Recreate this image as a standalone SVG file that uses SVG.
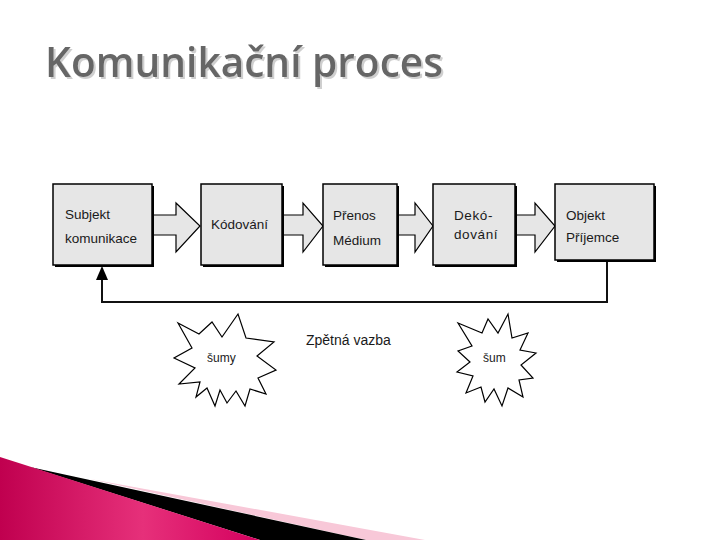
<svg xmlns="http://www.w3.org/2000/svg" width="720" height="540" viewBox="0 0 720 540">
  <defs>
    <style>
      .box { fill: #e6e6e6; stroke: #000; stroke-width: 1.5; }
      .shadow { fill: #000; }
      .barrow { fill: #e6e6e6; stroke: #000; stroke-width: 1.2; stroke-linejoin: miter; }
      .lbl { font-family: "Liberation Sans", Arial, sans-serif; font-size: 13.5px; fill: #1a1a1a; }
      .small { font-family: "Liberation Sans", Arial, sans-serif; font-size: 12px; fill: #1a1a1a; }
      .star { fill: #fff; stroke: #000; stroke-width: 1.2; stroke-linejoin: miter; }
      .fb { fill: none; stroke: #111; stroke-width: 2; }
      .title { font-family: "Open Sans", "DejaVu Sans", sans-serif; font-size: 42px; font-weight: 600; fill: #666; }
    </style>
    <filter id="tshadow" x="-5%" y="-20%" width="110%" height="150%">
      <feDropShadow dx="2" dy="2" stdDeviation="0.6" flood-color="#cfcfcf" flood-opacity="1"/>
    </filter>
    <linearGradient id="mag" x1="0" y1="0" x2="1" y2="0">
      <stop offset="0" stop-color="#c0004f"/>
      <stop offset="0.55" stop-color="#e6307a"/>
      <stop offset="1" stop-color="#d4005e"/>
    </linearGradient>
  </defs>
  <rect width="720" height="540" fill="#fff"/>

  <!-- Title -->
  <g id="title">
    <text class="title" x="45" y="77" textLength="398" lengthAdjust="spacingAndGlyphs" filter="url(#tshadow)">Komunikační proces</text>
  </g>

  <!-- Connectors -->
  <g id="connectors">
    <path class="barrow" d="M152,215 H176 V203 L200,226 L176,252 V235 H152"/>
    <path class="barrow" d="M282,215 H303 V203 L323,226 L303,252 V235 H282"/>
    <path class="barrow" d="M397,215 H415 V203 L433,226 L415,252 V235 H397"/>
    <path class="barrow" d="M515,215 H535 V203 L555,226 L535,252 V235 H515"/>
    <path class="fb" d="M607,261 V302 H102 V278"/>
    <polygon points="102,266 96,280 108,280" fill="#000"/>
  </g>

  <!-- Nodes -->
  <g id="n1">
    <rect class="shadow" x="55" y="186" width="99" height="81"/>
    <rect class="box" x="53" y="184" width="99" height="81"/>
    <text class="lbl" x="65" y="219">Subjekt</text>
    <text class="lbl" x="65" y="243">komunikace</text>
  </g>
  <g id="n2">
    <rect class="shadow" x="203" y="186" width="81" height="81"/>
    <rect class="box" x="201" y="184" width="81" height="81"/>
    <text class="lbl" x="211" y="229">Kódování</text>
  </g>
  <g id="n3">
    <rect class="shadow" x="325" y="186" width="74" height="81"/>
    <rect class="box" x="323" y="184" width="74" height="81"/>
    <text class="lbl" x="333" y="220">Přenos</text>
    <text class="lbl" x="333" y="245">Médium</text>
  </g>
  <g id="n4">
    <rect class="shadow" x="435" y="186" width="82" height="81"/>
    <rect class="box" x="433" y="184" width="82" height="81"/>
    <text class="lbl" x="454" y="220" style="letter-spacing:0.6px">Dekó-</text>
    <text class="lbl" x="454" y="239" style="letter-spacing:0.6px">dování</text>
  </g>
  <g id="n5">
    <rect class="shadow" x="557" y="186" width="99" height="76"/>
    <rect class="box" x="555" y="184" width="99" height="76"/>
    <text class="lbl" x="566" y="220">Objekt</text>
    <text class="lbl" x="566" y="242">Příjemce</text>
  </g>

  <g id="feedback-label">
    <text class="lbl" x="306" y="345" style="font-size:14px">Zpětná vazba</text>
  </g>

  <g id="noise1">
    <polygon class="star" points="178,323 199,334 212,322 222,337 238,314 246,338 274,342 257,356 276,370 258,378 266,394 250,389 245,406 236,391 227,403 220,390 215,406 207,388 196,397 200,382 179,384 195,368 174,358 192,348"/>
    <text class="small" x="207" y="362">šumy</text>
  </g>
  <g id="noise2">
    <polygon class="star" points="458,323 482,333 488,319 498,333 508,314 512,338 528,333 520,350 536,353 521,365 533,378 519,380 523,397 508,388 502,406 494,389 485,402 481,387 466,393 473,376 457,372 470,362 458,351 472,346"/>
    <text class="small" x="483" y="362">šum</text>
  </g>

  <!-- Decoration -->
  <g id="decoration">
    <polygon points="90,479 425,540 366,540" fill="#f8c8d8"/>
    <polygon points="30,467 366,540 260,540" fill="#000"/>
    <polygon points="0,457 260,540 0,540" fill="url(#mag)"/>
  </g>
</svg>
